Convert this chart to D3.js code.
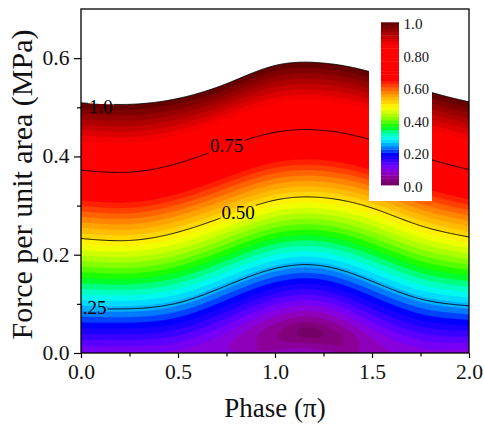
<!DOCTYPE html>
<html><head><meta charset="utf-8">
<script src="https://cdn.jsdelivr.net/npm/d3@7"></script>
<style>
html,body{margin:0;padding:0;background:#fff;}
svg{display:block;}
svg text{font-family:"Liberation Serif","Times New Roman",serif;}
</style></head>
<body><svg id="chart" width="484" height="429"></svg>
<script>
// ---------- data ----------
const phases   = [0, 0.25, 0.5, 0.75, 1.0, 1.25, 1.5, 1.75, 2.0];
const level025 = [0.091, 0.090, 0.102, 0.137, 0.172, 0.177, 0.146, 0.110, 0.096];
const level050 = [0.233, 0.229, 0.246, 0.279, 0.311, 0.316, 0.295, 0.259, 0.236];
const level075 = [0.372, 0.368, 0.386, 0.420, 0.449, 0.453, 0.433, 0.400, 0.373];
const level100 = [0.509, 0.506, 0.518, 0.548, 0.585, 0.590, 0.571, 0.537, 0.511];
const valleyPhases = [0, 0.5, 0.75, 0.91, 1.02, 1.11, 1.18, 1.25, 1.35, 1.43, 1.63, 2.0];
const valleyFloor  = [0.06, 0.08, 0.085, 0.06, 0.04, 0.02, 0.004, 0.02, 0.04, 0.06, 0.085, 0.06];
const contourLevels = [0.25, 0.5, 0.75, 1.0];
const contourLabels = ["0.25", "0.50", "0.75", "1.0"];
const xTicks = [0, 0.5, 1.0, 1.5, 2.0];
const xMinor = [0.25, 0.75, 1.25, 1.75];
const yTicks = [0, 0.2, 0.4, 0.6];
const yMinor = [0.1, 0.3, 0.5];
const barTicks = [0, 0.2, 0.4, 0.6, 0.8, 1.0];
const barTickLabels = ["0.0", "0.20", "0.40", "0.60", "0.80", "1.0"];
const bandStep = 0.02;

// ---------- colour map (style) ----------
const cStops = [0.00,0.02,0.04,0.06,0.08,0.10,0.13,0.165,0.19,0.22,0.25,0.28,0.30,0.33,0.36,0.40,0.44,0.48,0.52,0.56,0.59,0.62,0.65,0.86,0.90,0.95,1.00];
const cCols  = ["#6a005e","#7c0070","#8a0088","#9000a8","#8c00cc","#8200f0","#5a00ff","#2000ff","#0000ff","#0060ff","#00b0ff","#00f0ff","#00ffe0","#00ff80","#00ff00","#70ff00","#c0ff00","#ffff00","#ffc800","#ff9600","#ff6400","#ff3000","#ff0000","#ff0000","#d00000","#960000","#5a0000"];
const cmap = d3.scaleLinear().domain(cStops).range(cCols).interpolate(d3.interpolateRgb).clamp(true);

// ---------- helpers ----------
function naturalSpline(xs, ys){
  const n = xs.length, h = [], a = [], l = [1], mu = [0], z = [0];
  const b = [], c = new Array(n).fill(0), d = [];
  for (let i = 0; i < n-1; i++) h[i] = xs[i+1]-xs[i];
  for (let i = 1; i < n-1; i++) a[i] = 3/h[i]*(ys[i+1]-ys[i]) - 3/h[i-1]*(ys[i]-ys[i-1]);
  for (let i = 1; i < n-1; i++){
    l[i] = 2*(xs[i+1]-xs[i-1]) - h[i-1]*mu[i-1];
    mu[i] = h[i]/l[i];
    z[i] = (a[i]-h[i-1]*z[i-1])/l[i];
  }
  for (let j = n-2; j >= 0; j--){
    c[j] = z[j] - mu[j]*c[j+1];
    b[j] = (ys[j+1]-ys[j])/h[j] - h[j]*(c[j+1]+2*c[j])/3;
    d[j] = (c[j+1]-c[j])/(3*h[j]);
  }
  return t => {
    let i = d3.bisectRight(xs, t) - 1;
    i = Math.max(0, Math.min(n-2, i));
    const dx = t - xs[i];
    return ys[i] + b[i]*dx + c[i]*dx*dx + d[i]*dx*dx*dx;
  };
}
const s25 = naturalSpline(phases, level025);
const s50 = naturalSpline(phases, level050);
const s75 = naturalSpline(phases, level075);
const s100 = naturalSpline(phases, level100);
const sFloor = naturalSpline(valleyPhases, valleyFloor);
const levelSplines = [s25, s50, s75, s100];

// ---------- layout ----------
const FONT = "Liberation Serif";
const svg = d3.select("#chart");
const x = d3.scaleLinear([0, 2], [81, 469]);
const y = d3.scaleLinear([0, 0.7], [353, 9]);
const x0 = 81, y0 = 9, pw = 388, ph = 344;

// ---------- field on a grid ----------
const nx = pw, ny = ph;
const values = new Float64Array(nx*ny);
for (let i = 0; i < nx; i++){
  const p = x.invert(x0 + i + 0.5);
  const ys = [2*s25(p) - s50(p), s25(p), s50(p), s75(p), s100(p)];
  const vs = [0, 0.25, 0.5, 0.75, 1.0];
  const m = Math.max(0, sFloor(p));
  for (let j = 0; j < ny; j++){
    const yv = y.invert(y0 + j + 0.5);
    let base;
    if (yv < ys[0]) base = (ys[0]-yv)*0.25/(ys[1]-ys[0]);
    else {
      let k = 0;
      while (k < 3 && yv > ys[k+1]) k++;
      base = vs[k] + (yv-ys[k])*(vs[k+1]-vs[k])/(ys[k+1]-ys[k]);
    }
    let f = Math.max(0, Math.min(1, 1 - base/0.25)); f = f*f;
    values[j*nx + i] = Math.sqrt(base*base + m*m*f);
  }
}
const thresholds = d3.range(0, 1.0001, bandStep).map(t => +t.toFixed(2));
const contours = d3.contours().size([nx, ny]).thresholds(thresholds)(values);
const gpath = d3.geoPath(d3.geoIdentity().translate([x0, y0]));

const defs = svg.append("defs");
defs.append("clipPath").attr("id", "plotClip")
  .append("rect").attr("x", x0).attr("y", y0).attr("width", pw).attr("height", ph);

const gFill = svg.append("g").attr("clip-path", "url(#plotClip)");
gFill.selectAll("path").data(contours).join("path")
  .attr("d", gpath)
  .attr("fill", d => d.value >= 1.0 ? "#fff" : cmap(d.value + bandStep/2))
  .attr("stroke", d => d.value >= 1.0 ? "none" : cmap(d.value + bandStep/2))
  .attr("stroke-width", 0.3);

// ---------- contour labels ----------
const labelPhase = [0.046, 0.81, 0.75, 0.103];
const labelDy = [-1, 1, -1, 3];
const gLab = svg.append("g").attr("clip-path", "url(#plotClip)");
const labs = contourLevels.map((v, k) => {
  const p = labelPhase[k];
  return gLab.append("text")
    .attr("x", x(p)).attr("y", y(levelSplines[k](p)) + labelDy[k] + 6.5)
    .attr("text-anchor", "middle").attr("font-family", FONT)
    .attr("font-size", 19).attr("fill", "#000")
    .text(contourLabels[k]);
});
const mask = defs.append("mask").attr("id", "lineMask").attr("maskUnits", "userSpaceOnUse")
  .attr("x", 0).attr("y", 0).attr("width", 484).attr("height", 429);
mask.append("rect").attr("x", 0).attr("y", 0).attr("width", 484).attr("height", 429).attr("fill", "#fff");
labs.forEach(t => {
  const bb = t.node().getBBox();
  mask.append("rect").attr("x", bb.x - 1).attr("y", bb.y).attr("width", bb.width + 2).attr("height", bb.height).attr("fill", "#000");
});

// ---------- contour lines ----------
const fine = d3.range(0, 2.0001, 0.005);
const line = d3.line().x(d => x(d[0])).y(d => y(d[1]));
const gLines = svg.append("g").attr("clip-path", "url(#plotClip)")
  .append("g").attr("mask", "url(#lineMask)");
levelSplines.forEach(s => {
  gLines.append("path").attr("d", line(fine.map(p => [p, s(p)])))
    .attr("fill", "none").attr("stroke", "#000").attr("stroke-width", 0.9);
});

// ---------- colour bar ----------
svg.append("rect").attr("x", 369).attr("y", 10).attr("width", 63).attr("height", 191).attr("fill", "#fff");
const by = d3.scaleLinear([0, 1], [185, 22.3]);
const bands = thresholds.slice(0, -1);
svg.append("g").selectAll("rect").data(bands).join("rect")
  .attr("x", 381).attr("width", 18)
  .attr("y", d => by(d + bandStep)).attr("height", d => by(d) - by(d + bandStep) + 0.4)
  .attr("fill", d => cmap(d + bandStep/2));
svg.append("g").selectAll("text").data(barTicks).join("text")
  .attr("x", 403.5).attr("y", d => by(d) + 7)
  .attr("font-family", FONT).attr("font-size", 15).attr("fill", "#111")
  .attr("textLength", (d, i) => barTickLabels[i].length === 3 ? 19 : 25.5)
  .attr("lengthAdjust", "spacingAndGlyphs")
  .text((d, i) => barTickLabels[i]);

// ---------- axes ----------
const fmt = d3.format(".1f");
const gx = svg.append("g").attr("transform", `translate(0,${y0+ph})`)
  .call(d3.axisBottom(x).tickValues(xTicks).tickSize(5).tickPadding(4).tickFormat(fmt));
svg.append("g").attr("transform", `translate(0,${y0+ph})`)
  .call(d3.axisBottom(x).tickValues(xMinor).tickSize(3.5).tickFormat(""));
const gy = svg.append("g").attr("transform", `translate(${x0},0)`)
  .call(d3.axisLeft(y).tickValues(yTicks).tickSize(7).tickPadding(4).tickFormat(fmt));
svg.append("g").attr("transform", `translate(${x0},0)`)
  .call(d3.axisLeft(y).tickValues(yMinor).tickSize(4).tickFormat(""));
svg.selectAll(".domain").remove();
svg.selectAll(".tick line").attr("stroke", "#000").attr("stroke-width", 1.2);
gx.selectAll("text").attr("font-size", 20).attr("font-family", FONT)
  .attr("fill", "#111").attr("dy", "0.71em").attr("y", 12)
  .attr("textLength", 27).attr("lengthAdjust", "spacingAndGlyphs");
gy.selectAll("text").attr("font-size", 20).attr("font-family", FONT)
  .attr("fill", "#111").attr("x", -11.5)
  .attr("textLength", 27).attr("lengthAdjust", "spacingAndGlyphs");

svg.append("rect").attr("x", x0).attr("y", y0).attr("width", pw).attr("height", ph)
  .attr("fill", "none").attr("stroke", "#000").attr("stroke-width", 1.3);

// ---------- titles ----------
svg.append("text").attr("x", 275).attr("y", 417).attr("text-anchor", "middle")
  .attr("font-family", FONT).attr("font-size", 27).attr("fill", "#111").text("Phase (\u03c0)");
svg.append("text").attr("transform", "translate(31.5,184.5) rotate(-90)")
  .attr("text-anchor", "middle").attr("font-family", FONT).attr("font-size", 30).attr("fill", "#111")
  .text("Force per unit area (MPa)");
</script></body></html>
